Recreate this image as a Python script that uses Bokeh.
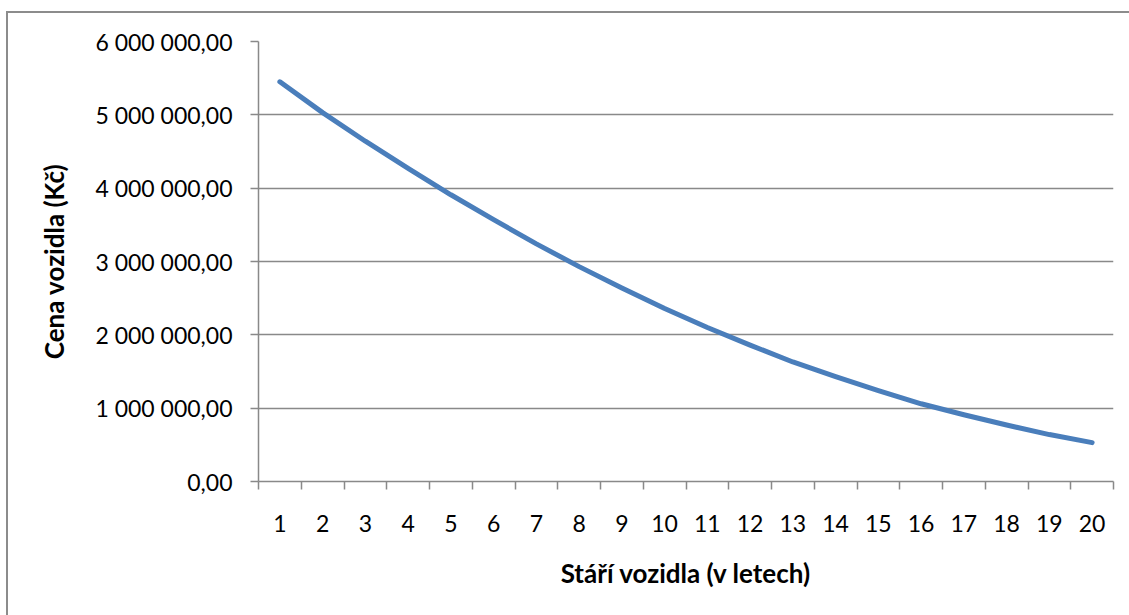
from bokeh.plotting import figure
from bokeh.models import FixedTicker, Range1d, InlineStyleSheet
from bokeh.embed import file_html
from bokeh.resources import INLINE

# ---- data ----
years = list(range(1, 21))
prices = [5450000, 5030000, 4640000, 4270000, 3910000, 3570000, 3240000,
          2930000, 2640000, 2360000, 2100000, 1860000, 1630000, 1430000,
          1240000, 1060000, 910000, 770000, 640000, 530000]
y_ticks = [0, 1000000, 2000000, 3000000, 4000000, 5000000, 6000000]
y_tick_labels = ["0,00", "1 000 000,00", "2 000 000,00", "3 000 000,00",
                 "4 000 000,00", "5 000 000,00", "6 000 000,00"]
x_tick_labels = [str(y) for y in years]
x_title = "Stáří vozidla (v letech)"
y_title = "Cena vozidla (Kč)"

FONT = "Lato"
GRAY = "#898989"

p = figure(frame_width=855, frame_height=440, output_backend="svg",
           toolbar_location=None,
           x_range=Range1d(0.5, 20.5), y_range=Range1d(0, 6000000),
           min_border_left=258, min_border_right=16,
           min_border_top=41, min_border_bottom=134)
p.outline_line_color = None
p.background_fill_color = "white"
p.border_fill_color = "white"

p.line(years, prices, line_color="#4A7EBB", line_width=5, line_cap="round",
       line_join="round")

# grid
p.xgrid.visible = False
p.ygrid.ticker = FixedTicker(ticks=y_ticks)
p.ygrid.grid_line_color = GRAY
p.ygrid.grid_line_width = 1.3

# y axis
ya = p.yaxis[0]
ya.ticker = FixedTicker(ticks=y_ticks)
ya.major_label_overrides = {t: l for t, l in zip(y_ticks, y_tick_labels)}
ya.axis_line_color = GRAY
ya.axis_line_width = 1.5
ya.major_tick_line_color = GRAY
ya.major_tick_line_width = 1.5
ya.major_tick_out = 8
ya.major_tick_in = 0
ya.minor_tick_line_color = None
ya.major_label_text_font = FONT
ya.major_label_text_font_size = "23px"
ya.major_label_text_color = "black"
ya.major_label_standoff = 18
ya.axis_label = y_title
ya.axis_label_text_font = FONT
ya.axis_label_text_font_style = "bold"
ya.axis_label_text_font_size = "26px"
ya.axis_label_text_color = "black"
ya.axis_label_standoff = 22

# x axis
xa = p.xaxis[0]
xa.ticker = FixedTicker(ticks=years, minor_ticks=[y - 0.5 for y in years] + [20.5])
xa.major_label_overrides = {t: l for t, l in zip(years, x_tick_labels)}
xa.axis_line_color = GRAY
xa.axis_line_width = 1.5
xa.major_tick_line_color = None
xa.major_tick_out = 0
xa.major_tick_in = 0
xa.minor_tick_line_color = GRAY
xa.minor_tick_line_width = 1.5
xa.minor_tick_out = 8
xa.minor_tick_in = 0
xa.major_label_text_font = FONT
xa.major_label_text_font_size = "23px"
xa.major_label_text_color = "black"
xa.major_label_standoff = 25
xa.axis_label = x_title
xa.axis_label_text_font = FONT
xa.axis_label_text_font_style = "bold"
xa.axis_label_text_font_size = "26px"
xa.axis_label_text_color = "black"
xa.axis_label_standoff = 22

# outer chart border (left and top edges visible in the window)
p.stylesheets = [InlineStyleSheet(css="""
:host { position: relative; }
:host::after {
  content: "";
  position: absolute;
  left: 6px; top: 11px; right: 0; bottom: 0;
  border-left: 2px solid #8c8c8c;
  border-top: 2px solid #8c8c8c;
  pointer-events: none;
  z-index: 10;
}
""")]

open("out.html", "w").write(file_html(p, INLINE))
